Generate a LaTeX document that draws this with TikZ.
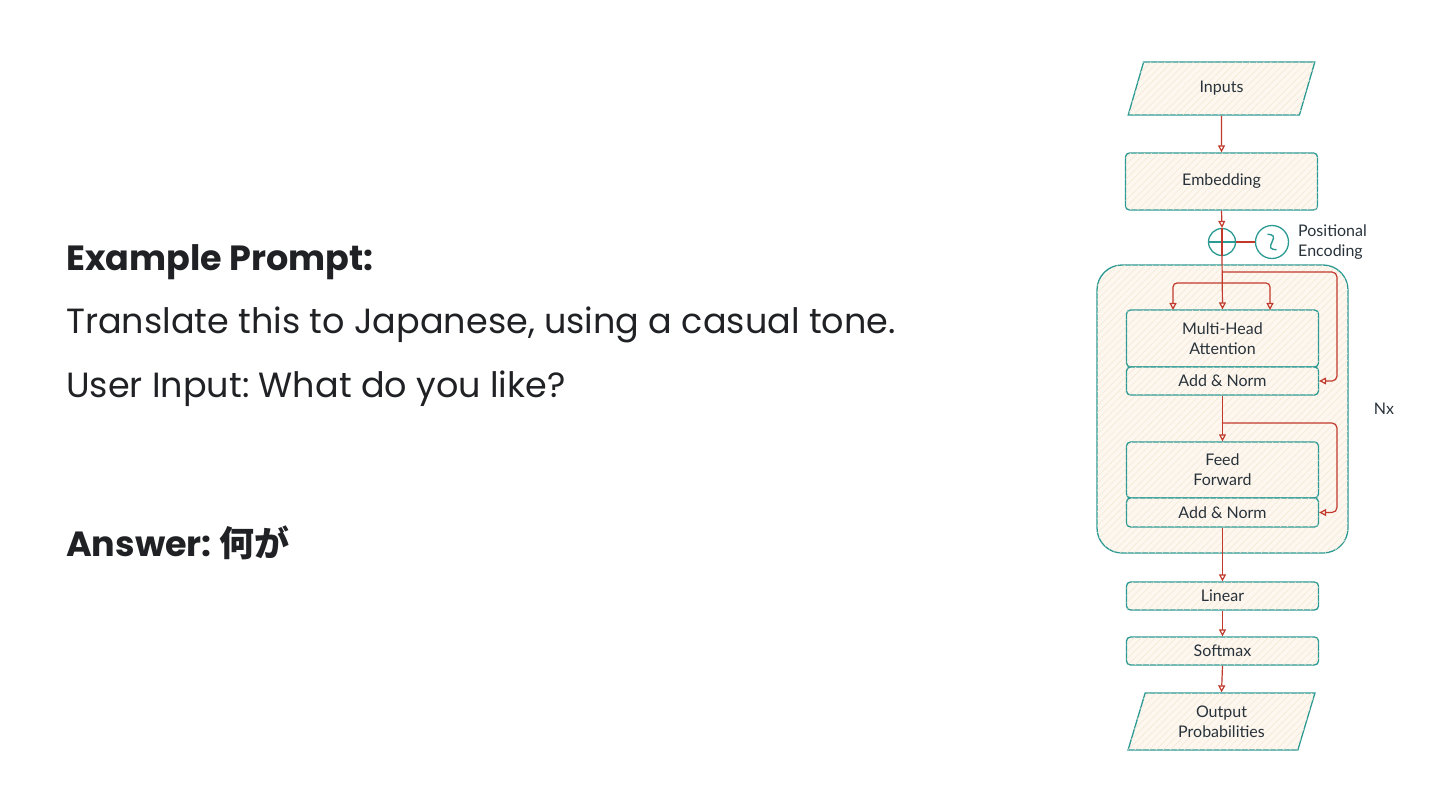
\documentclass[tikz,border=0pt]{standalone}
\usepackage{fontspec}
\setmainfont{Lato}
\newfontfamily\mainf{Poppins}
\newfontfamily\cjk{Noto Sans CJK JP}
\usetikzlibrary{shapes.geometric,arrows.meta,patterns.meta,calc}
\definecolor{tealc}{RGB}{43,154,147}
\definecolor{redc}{RGB}{192,57,43}
\definecolor{cream}{RGB}{253,247,239}
\definecolor{hatch}{RGB}{244,230,212}
\definecolor{txt}{RGB}{32,33,36}
\definecolor{dtxt}{RGB}{40,50,58}
\frenchspacing
\begin{document}
\begin{tikzpicture}[x=1pt,y=-1pt,
  hatched/.style={fill=cream,postaction={pattern={Lines[angle=45,distance=5pt,line width=0.5pt]},pattern color=hatch}},
  blk/.style={draw=tealc,line width=1.3pt,hatched,rounded corners=4pt,minimum width=192pt,inner sep=0pt,align=center,text=dtxt,font=\fontsize{16}{20}\selectfont},
  para/.style={draw=tealc,line width=1.3pt,hatched,trapezium,trapezium left angle=73,trapezium right angle=107,trapezium stretches=true,minimum width=187pt,inner sep=0pt,align=center,text=dtxt,font=\fontsize{16}{20}\selectfont},
  arr/.style={draw=redc,line width=1.2pt,-{Triangle[open,length=7pt,width=7pt]}},
  redl/.style={draw=redc,line width=1.2pt},
  maintxt/.style={anchor=base west,inner sep=0pt,text=txt,font=\mainf\fontsize{35}{42}\selectfont},
]
\useasboundingbox (0,0) rectangle (1440,810);
% left text
\node[maintxt,font=\mainf\fontsize{35}{42}\selectfont\bfseries] (t1) at (66,271) {Example Prompt:};
\node[maintxt] (t2) at (66,333) {Translate this to Japanese, using a casual tone.};
\node[maintxt] (t3) at (66,397) {User Input: What do you like?};
\node[maintxt,font=\mainf\fontsize{35}{42}\selectfont\bfseries] (t4) at (66,556) {Answer: {\cjk\bfseries 何が}};
% container
\node[draw=tealc,line width=1.3pt,hatched,rounded corners=25pt,minimum width=251pt,minimum height=288pt,inner sep=0pt] (nx) at (1222.5,409) {};
\node[text=dtxt,font=\fontsize{16}{20}\selectfont] (nxl) at (1384,409) {Nx};
% blocks
\node[para,minimum height=53pt] (inp) at (1221.5,88.5) {Inputs};
\node[blk,minimum height=57pt] (emb) at (1221.5,181.5) {Embedding};
\node[circle,draw=tealc,line width=1.3pt,fill=white,minimum size=27pt,inner sep=0pt] (plus) at (1222,242) {};
\node[circle,draw=tealc,line width=1.3pt,fill=white,minimum size=33pt,inner sep=0pt] (pe) at (1272,242) {};
\node[anchor=west,align=left,text=dtxt,inner sep=0pt,font=\fontsize{16}{20}\selectfont] (pel) at (1298,242) {Positional\\Encoding};
\node[blk,minimum height=57pt] (mha) at (1222.5,338.5) {Multi-Head\\Attention};
\node[blk,minimum height=28pt] (an1) at (1222.5,381) {Add \& Norm};
\node[blk,minimum height=56pt] (ff) at (1222.5,470) {Feed\\Forward};
\node[blk,minimum height=29pt] (an2) at (1222.5,512.5) {Add \& Norm};
\node[blk,minimum height=28pt] (lin) at (1222.5,596) {Linear};
\node[blk,minimum height=28pt] (sm) at (1222.5,651) {Softmax};
\node[para,minimum height=57pt] (out) at (1221.5,721.5) {Output\\Probabilities};
% plus sign and wave
\draw[tealc,line width=1.2pt] (plus.west) -- (plus.east);
\draw[redl] (plus.north) -- (plus.south);
\begin{scope}[shift={(pe.center)},rotate=-60]
\draw[tealc,line width=1.4pt] (-9,0) sin (-4.5,-4) cos (0,0) sin (4.5,4) cos (9,0);
\end{scope}
\draw[redl] (plus.east) -- (pe.west);
% connectors
\draw[arr] (inp.south) -- (emb.north);
\draw[arr] (emb.south) -- (plus.north);
\draw[arr] (plus.south) -- (mha.north);
\coordinate (b1) at (1222,272);
\coordinate (b2) at (1222,283);
\coordinate (r1) at (1337,272);
\coordinate (ql) at (1173,310);
\coordinate (qr) at (1270,310);
\draw[arr,rounded corners=5pt] (b1) -- (r1) |- (an1.east);
\draw[arr,rounded corners=4pt] (b2) -| (ql);
\draw[arr,rounded corners=4pt] (b2) -| (qr);
\draw[arr] (an1.south) -- (ff.north);
\coordinate (b3) at (1222,423);
\coordinate (r2) at (1337,423);
\draw[arr,rounded corners=5pt] (b3) -- (r2) |- (an2.east);
\draw[arr] (an2.south) -- (lin.north);
\draw[arr] (lin.south) -- (sm.north);
\draw[arr] (sm.south) -- (out.north);
\end{tikzpicture}
\end{document}
